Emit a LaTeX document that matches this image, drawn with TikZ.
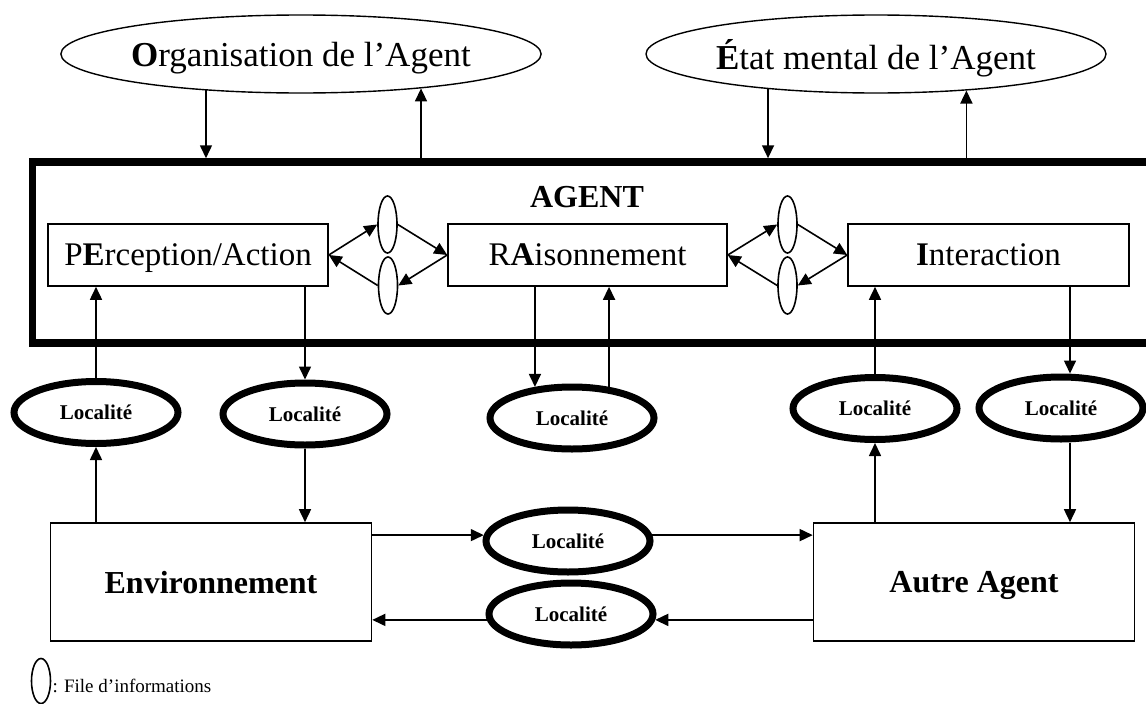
\documentclass[tikz,border=0pt]{standalone}
\usepackage{fontspec}
\setmainfont{Liberation Serif}
\usetikzlibrary{arrows.meta,shapes.geometric}
\begin{document}
\begin{tikzpicture}[x=1pt,y=-1pt,
  every node/.style={text depth=0pt},
  outer/.style={ellipse,draw,line width=1.4pt,inner sep=0pt,font=\fontsize{35}{38}\selectfont},
  module/.style={rectangle,draw,line width=1.6pt,inner sep=0pt,minimum height=62pt,font=\fontsize{33}{36}\selectfont},
  queue/.style={ellipse,draw,line width=1.6pt,inner sep=0pt,minimum width=19pt,minimum height=57pt},
  loc/.style={ellipse,draw,line width=7pt,inner sep=0pt,minimum width=164pt,minimum height=62pt,font=\bfseries\fontsize{21}{24}\selectfont},
  world/.style={rectangle,draw,line width=1.6pt,inner sep=0pt,minimum width=321pt,minimum height=118pt,font=\bfseries\fontsize{32}{36}\selectfont},
  flow/.style={line width=1.6pt,-{Triangle[length=13pt,width=12pt]}}
]
\useasboundingbox (0,0) rectangle (1146,704);
\clip (0,0) rectangle (1146,704);

% agent frame (runs past the right edge)
\node[draw,line width=7.5pt,inner sep=0pt,minimum width=1160pt,minimum height=181pt] (agent) at (612.5,252.5) {};
\node[font=\bfseries\fontsize{32}{35}\selectfont] (title) at (587,197) {AGENT};

% organisation and mental state
\node[outer,minimum width=418pt,minimum height=78pt] (org) at (301,54) {\textbf{O}rganisation de l’Agent};
\node[outer,minimum width=460pt,minimum height=78pt] (etat) at (876,54) {\textbf{É}tat mental de l’Agent};

% modules
\node[module,minimum width=280pt] (perc) at (188,255) {P\textbf{E}rception/Action};
\node[module,minimum width=279pt] (rais) at (587.5,255) {R\textbf{A}isonnement};
\node[module,minimum width=281pt] (inter) at (988.5,255) {\textbf{I}nteraction};

% information queues
\node[queue] (q1a) at (387.5,224.5) {};
\node[queue] (q1b) at (388,285.5) {};
\node[queue] (q2a) at (787.5,224.5) {};
\node[queue] (q2b) at (787.5,285.5) {};

% localities
\node[loc] (l1) at (96,412.5) {Localité};
\node[loc] (l2) at (305,414) {Localité};
\node[loc] (l3) at (572,418) {Localité};
\node[loc] (l4) at (875,408.5) {Localité};
\node[loc] (l5) at (1061,408) {Localité};
\node[loc] (l6) at (568,541) {Localité};
\node[loc] (l7) at (571,614) {Localité};

% environment and other agent
\node[world] (env) at (211,582) {Environnement};
\node[world] (autre) at (974,582) {Autre Agent};

% legend
\node[queue,minimum height=45pt] (key) at (41,681) {};
\node[anchor=west,inner sep=0pt,font=\fontsize{19}{22}\selectfont] (keytext) at ([xshift=1pt,yshift=-5pt]key.east) {: File d’informations};

% organisation / mental state <-> agent
\draw[flow] (org.201) -- (org.201 |- agent.north);
\draw[flow] (org.344 |- agent.north) -- (org.344);
\draw[flow] (etat.198) -- (etat.198 |- agent.north);
\draw[flow] (etat.338 |- agent.north) -- (etat.338);

% modules through the queues
\draw[flow] (perc.east) -- (q1a.west);
\draw[flow] (q1a.east) -- (rais.west);
\draw[flow] (rais.west) -- (q1b.east);
\draw[flow] (q1b.west) -- (perc.east);
\draw[flow] (rais.east) -- (q2a.west);
\draw[flow] (q2a.east) -- (inter.west);
\draw[flow] (inter.west) -- (q2b.east);
\draw[flow] (q2b.west) -- (rais.east);

% modules <-> localities <-> outside world
\draw[flow] (l1.north) -- (l1.north |- perc.south);
\draw[flow] (l1.south |- env.north) -- (l1.south);
\draw[flow] (l2.north |- perc.south) -- (l2.north);
\draw[flow] (l2.south) -- (l2.south |- env.north);
\draw[flow] (l3.140 |- rais.south) -- (l3.140);
\draw[flow] (l3.40) -- (l3.40 |- rais.south);
\draw[flow] (l4.north) -- (l4.north |- inter.south);
\draw[flow] (l4.south |- autre.north) -- (l4.south);
\draw[flow] ([xshift=9pt]l5.north |- inter.south) -- ([xshift=9pt]l5.north);
\draw[flow] ([xshift=9pt]l5.south) -- ([xshift=9pt]l5.south |- autre.north);

% environment <-> other agent
\draw[flow] (l6.176 -| env.east) -- (l6.176);
\draw[flow] (l6.4) -- (l6.4 -| autre.west);
\draw[flow] (l7.356 -| autre.west) -- (l7.356);
\draw[flow] (l7.184) -- (l7.184 -| env.east);
\end{tikzpicture}
\end{document}
